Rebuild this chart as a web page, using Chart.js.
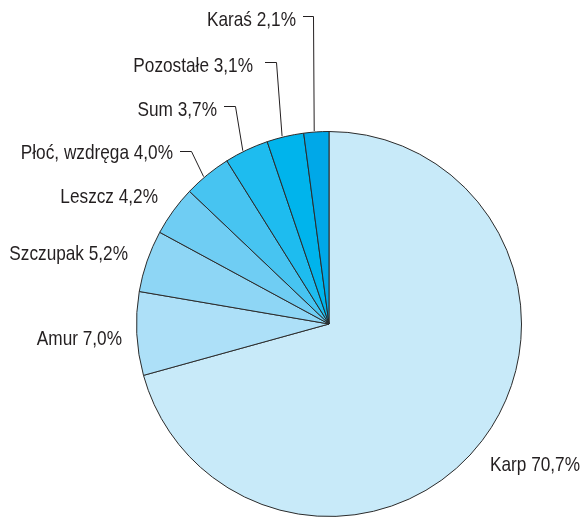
<!DOCTYPE html>
<html>
<head>
<meta charset="utf-8">
<script src="https://cdn.jsdelivr.net/npm/chart.js@4.4.1/dist/chart.umd.min.js"></script>
<style>
html,body{margin:0;padding:0;background:#fff;overflow:hidden;}
#wrap{width:581px;height:517px;position:relative;}
</style>
</head>
<body>
<div id="wrap"><canvas id="c" width="581" height="517"></canvas></div>
<script>
const categories = ['Karp', 'Amur', 'Szczupak', 'Leszcz', 'Płoć, wzdręga', 'Sum', 'Pozostałe', 'Karaś'];
const shares = [70.7, 7.0, 5.2, 4.2, 4.0, 3.7, 3.1, 2.1];
const sliceColors = ['#c8eaf9', '#ade0f8', '#8ed6f5', '#6fcdf3', '#47c4f1', '#1ebcef', '#00b4ec', '#00a8e8'];

// label placement (annotation layout, not data)
const labelLayout = [
  {align: 'left',  x: 490, y: 471},                      // Karp
  {align: 'right', x: 122, y: 345},                      // Amur
  {align: 'right', x: 128, y: 260},                      // Szczupak
  {align: 'right', x: 158, y: 203},                      // Leszcz
  {align: 'right', x: 173, y: 159, leader: [[180,151],[191,151]]}, // Płoć
  {align: 'right', x: 217, y: 116, leader: [[224,106],[235,106]]}, // Sum
  {align: 'right', x: 253, y: 72,  leader: [[265,62],[276,62]]},   // Pozostałe
  {align: 'right', x: 296, y: 26,  leader: [[303,16],[313,16]]}    // Karaś
];

const fmt = v => v.toFixed(1).replace('.', ',') + '%';

const labelPlugin = {
  id: 'pieLabels',
  afterDraw(chart) {
    const ctx = chart.ctx;
    const meta = chart.getDatasetMeta(0);
    meta.data.forEach((arc, i) => {
      const L = labelLayout[i];
      ctx.save();
      ctx.font = '21px "Liberation Sans", Arial, sans-serif';
      ctx.fillStyle = '#231f20';
      ctx.textBaseline = 'alphabetic';
      ctx.textAlign = L.align;
      ctx.translate(L.x, L.y);
      ctx.scale(0.82, 1);
      ctx.fillText(categories[i] + ' ' + fmt(shares[i]), 0, 0);
      ctx.restore();
      if (L.leader) {
        const p = arc.getProps(['x','y','startAngle','endAngle','outerRadius'], true);
        const a = p.startAngle + (p.endAngle - p.startAngle) * 0.42;
        const r = p.outerRadius + 1;
        const ex = p.x + Math.cos(a) * r, ey = p.y + Math.sin(a) * r;
        ctx.save();
        ctx.beginPath();
        ctx.strokeStyle = '#231f20';
        ctx.lineWidth = 1;
        ctx.moveTo(L.leader[0][0], L.leader[0][1] + 0.5);
        for (let k = 1; k < L.leader.length; k++) ctx.lineTo(L.leader[k][0] + 0.5, L.leader[k][1] + 0.5);
        ctx.lineTo(ex, ey);
        ctx.stroke();
        ctx.restore();
      }
    });
  }
};

new Chart(document.getElementById('c'), {
  type: 'pie',
  data: {
    labels: categories,
    datasets: [{
      data: shares,
      backgroundColor: sliceColors,
      borderColor: '#2b2b2b',
      borderWidth: 1,
      borderAlign: 'center'
    }]
  },
  options: {
    responsive: false,
    animation: false,
    devicePixelRatio: 1,
    events: [],
    layout: {padding: {left: 136, right: 59, top: 131, bottom: 0}},
    plugins: {legend: {display: false}, tooltip: {enabled: false}}
  },
  plugins: [labelPlugin]
});
</script>
</body>
</html>
